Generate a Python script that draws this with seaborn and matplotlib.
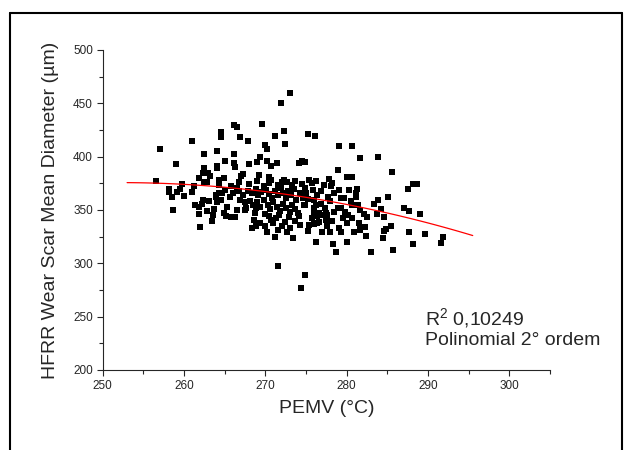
import numpy as np
import pandas as pd
import matplotlib
matplotlib.use("Agg")
import matplotlib.pyplot as plt
import seaborn as sns
from matplotlib.ticker import MultipleLocator
from matplotlib.lines import Line2D

# ---- data ----
pemv = [
    273.0, 271.9, 269.6, 266.1, 266.5, 264.6, 264.6, 266.9, 267.9, 272.3,
    271.2, 272.4, 270.0, 270.2, 275.2, 276.1, 261.0, 257.0, 262.5, 264.1,
    266.1, 269.4, 259.0, 265.1, 264.1, 264.1, 266.2, 266.3, 268.0, 269.0,
    270.2, 270.7, 271.4, 274.1, 274.5, 274.9, 262.4, 262.3, 263.0, 267.3,
    267.0, 269.2, 270.4, 270.7, 272.3, 272.7, 273.3, 275.4, 276.2, 277.8,
    278.2, 280.1, 279.1, 280.7, 281.6, 283.8, 278.9, 285.6, 280.7, 281.3,
    287.5, 288.1, 288.6, 256.5, 259.7, 262.4, 262.8, 264.3, 264.3, 265.8,
    266.5, 258.2, 259.5, 261.2,
    258.7, 258.2, 258.5, 259.1, 260.0, 261.0, 261.4, 261.9, 262.3, 261.9,
    262.0, 263.4, 262.2, 263.1, 264.0, 263.9, 264.3, 264.7, 265.3, 265.2,
    265.8, 266.3, 266.5, 266.9, 267.2, 267.5, 267.6, 267.5, 268.4, 268.9,
    268.6, 268.7, 268.9, 270.2, 271.2, 270.7, 271.0, 271.3, 272.1, 273.4,
    274.1,
    267.9, 268.3, 268.8, 269.1, 269.5, 269.8, 270.1, 270.4, 270.8, 271.2,
    271.6, 271.9, 272.2, 272.5, 272.8, 273.1, 273.5, 273.8, 274.2, 274.6,
    268.1, 268.5, 269.0, 269.4, 269.8, 270.3, 270.6, 271.0, 271.4, 271.8,
    272.2, 272.6, 273.0, 273.3, 273.7, 274.0, 270.0, 270.5, 271.7, 272.9,
    273.6, 272.4, 269.4, 270.0, 273.0, 271.6, 272.7, 274.3, 275.3, 275.7,
    276.8, 277.3, 277.7, 278.4, 279.0, 277.2, 275.8, 275.2, 265.6, 266.0,
    266.8, 265.0, 264.6, 263.7, 264.9, 263.6, 262.8, 263.9, 268.0, 269.0,
    270.5, 271.5, 272.0, 273.6, 274.5, 266.8, 264.9, 263.2, 261.8,
    274.6, 275.0, 274.8, 280.3, 281.1, 281.1, 279.3, 279.7, 280.5, 280.7,
    281.4, 276.4, 276.0, 276.2, 277.9, 274.9, 278.1, 274.9, 276.9, 275.7,
    275.4, 276.0, 276.4, 276.6, 276.9, 276.0, 276.0, 276.2, 276.6, 276.4,
    277.4, 277.6, 278.5, 278.9, 279.3, 279.3, 280.0, 280.9, 280.0, 280.7,
    281.5, 281.6, 281.6, 277.0, 277.9, 276.2, 278.3, 278.7, 279.8, 280.2,
    281.7, 282.1, 279.6, 278.2, 277.6, 279.0, 277.5,
    283.4, 283.9, 284.2, 285.1, 283.7, 284.6, 287.1, 287.7, 289.0, 282.5,
    282.3, 282.4, 285.4, 284.8, 284.6, 284.5, 283.0, 285.7, 287.7, 288.1,
    289.6, 291.8, 291.6,
    271.5, 274.9, 274.4,
]
hfrr = [
    460, 450, 431, 430, 428, 423, 418, 418, 415, 424,
    419, 412, 411, 407, 421, 419, 415, 407, 402, 405,
    402, 400, 393, 396, 391, 389, 394, 390, 393, 395,
    396, 391, 394, 394, 396, 395, 389, 385, 385, 384,
    382, 383, 381, 378, 378, 376, 373, 378, 377, 379,
    375, 381, 410, 410, 399, 400, 387, 386, 381, 370,
    370, 374, 374, 377, 374, 376, 376, 378, 373, 372,
    371, 370, 370, 372,
    350, 367, 362, 367, 363, 367, 355, 353, 359, 346,
    334, 340, 356, 358, 357, 364, 366, 366, 353, 344,
    343, 343, 350, 359, 364, 357, 352, 350, 333, 335,
    341, 347, 352, 329, 325, 341, 338, 342, 335, 324,
    344,
    368, 366, 370, 364, 367, 372, 369, 365, 361, 368,
    364, 371, 366, 361, 368, 364, 370, 359, 366, 361,
    358, 355, 357, 353, 359, 355, 351, 357, 353, 349,
    356, 352, 348, 355, 351, 347, 346, 344, 345, 343,
    340, 339, 338, 335, 333, 331, 329, 336, 330, 342,
    356, 352, 362, 366, 369, 373, 369, 360, 362, 366,
    368, 369, 359, 351, 347, 345, 349, 362, 374, 377,
    375, 373, 376, 377, 374, 376, 380, 382, 380,
    366, 366, 355, 369, 366, 362, 361, 361, 358, 355,
    355, 364, 359, 355, 358, 355, 372, 371, 368, 375,
    336, 337, 338, 339, 345, 352, 348, 347, 347, 344,
    347, 345, 348, 352, 352, 329, 320, 329, 338, 342,
    338, 334, 331, 329, 329, 320, 318, 311, 348, 345,
    350, 346, 342, 340, 335, 333, 341,
    356, 359, 351, 362, 346, 343, 352, 349, 346, 343,
    334, 326, 335, 332, 330, 324, 311, 312, 329, 318,
    327, 325, 319,
    297, 289, 277,
]

# quadratic fit: y = c2*(x-xc)^2 + c1*(x-xc) + c0
fit_range = [253.0, 295.5]
fit_center = 274.0
fit_coef = [-0.0264, -1.154, 363.0]

r2_text = "R$^{2}$ 0,10249"
fit_text = "Polinomial 2° ordem"
xlabel = "PEMV (°C)"
ylabel = "HFRR Wear Scar Mean Diameter (µm)"

sns.set_style("ticks")
plt.rcParams["font.family"] = ["Liberation Sans", "DejaVu Sans"]
plt.rcParams["mathtext.default"] = "regular"

fig = plt.figure(figsize=(6.3, 4.5), dpi=100)
ax = fig.add_axes([0.163, 0.178, 0.710, 0.711])

df = pd.DataFrame({"PEMV": pemv, "HFRR": hfrr})
sns.scatterplot(data=df, x="PEMV", y="HFRR", marker="s", s=22, color="black",
                linewidth=0, ax=ax, zorder=3)

fx = np.linspace(fit_range[0], fit_range[1], 100)
fy = np.polyval(fit_coef, fx - fit_center)
sns.lineplot(x=fx, y=fy, color="red", linewidth=0.9, ax=ax, zorder=4)

ax.set_xlim(250, 305)
ax.set_ylim(200, 500)
ax.xaxis.set_major_locator(MultipleLocator(10))
ax.xaxis.set_minor_locator(MultipleLocator(5))
ax.yaxis.set_major_locator(MultipleLocator(50))
ax.yaxis.set_minor_locator(MultipleLocator(25))
ax.set_xticks([250, 260, 270, 280, 290, 300])
ax.tick_params(which="major", length=4, width=0.8, labelsize=8.5, direction="out", pad=3)
ax.tick_params(which="minor", length=3, width=0.8, direction="out")
for side in ["top", "right"]:
    ax.spines[side].set_visible(False)
for side in ["left", "bottom"]:
    ax.spines[side].set_linewidth(0.8)

ax.set_xlabel(xlabel, fontsize=14, labelpad=6)
ax.set_ylabel(ylabel, fontsize=14, labelpad=10)

ax.text(289.6, 249, r2_text, fontsize=14, va="center", ha="left")
ax.text(289.6, 228, fit_text, fontsize=14, va="center", ha="left")

# outer frame (partial, as in the reference)
lx, rx, ty = 9.5 / 630, 621.5 / 630, 1 - 12.5 / 450
fig.add_artist(Line2D([lx, lx], [0, ty], transform=fig.transFigure, color="black", lw=1.5))
fig.add_artist(Line2D([lx, rx], [ty, ty], transform=fig.transFigure, color="black", lw=1.5))
fig.add_artist(Line2D([rx, rx], [0, ty], transform=fig.transFigure, color="black", lw=1.5))

fig.savefig("out.png", dpi=100)
